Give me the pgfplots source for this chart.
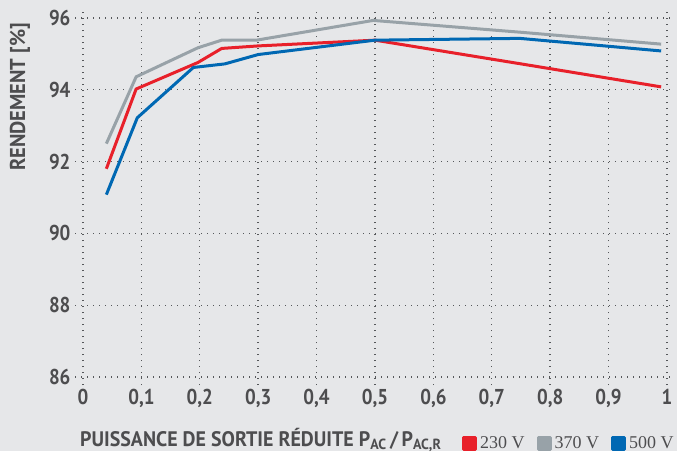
\documentclass[border=0pt]{standalone}
\usepackage{fontspec}
\setmainfont{PT Sans}[FakeStretch=0.88]
\newfontfamily\labfont{PT Sans}[FakeStretch=0.95]
\newfontfamily\legfont{Liberation Serif}
\usepackage{pgfplots}
\pgfplotsset{compat=1.18}
\definecolor{bg}{HTML}{E6E7E9}
\definecolor{txt}{HTML}{4D4D4F}
\definecolor{cred}{HTML}{E8202A}
\definecolor{cgray}{HTML}{98A2A8}
\definecolor{cblue}{HTML}{0068B3}
\definecolor{grd}{HTML}{55575A}
\begin{document}
\begin{tikzpicture}[x=1pt,y=1pt]
\fill[bg] (0,0) rectangle (677,451);
\path[use as bounding box] (0,0) rectangle (677,451);
\begin{axis}[
  at={(75pt,66pt)}, anchor=south west,
  scale only axis, width=597pt, height=375pt,
  xmin=-0.0137, xmax=1.0086, ymin=85.78, ymax=96.22,
  axis line style={draw=none},
  tick style={draw=none},
  xtick={0,0.1,0.2,0.3,0.4,0.5,0.6,0.7,0.8,0.9,1},
  xticklabels={0,{0,1},{0,2},{0,3},{0,4},{0,5},{0,6},{0,7},{0,8},{0,9},1},
  ytick={86,88,90,92,94,96},
  yticklabels={86,88,90,92,94,96},
  grid=major,
  major grid style={grd, line width=1.4pt, dash pattern=on 1.4pt off 4.6pt},
  tick label style={font=\fontsize{21.5}{21.5}\selectfont\bfseries, text=txt},
  xticklabel style={yshift=-1pt},
  yticklabel style={xshift=-1pt},
  legend columns=3,
  legend style={at={(0.648,-0.155)}, anchor=west, draw=none, fill=none, inner sep=0pt,
     font=\fontsize{18}{18}\selectfont\legfont, text=txt,
     /tikz/every even column/.append style={column sep=9pt},
     nodes={inner xsep=3pt, inner ysep=0pt}},
  legend image code/.code={\fill (0pt,-6pt) rectangle (12pt,6pt);},
]
\addplot[cred, line width=3pt, line join=round] coordinates {
 (0.04,91.8) (0.091,94.02) (0.197,94.76) (0.2375,95.15) (0.3,95.22) (0.5,95.38) (0.75,94.72) (0.99,94.08)};
\addlegendentry{230 V}
\addplot[cgray, line width=3pt, line join=round] coordinates {
 (0.04,92.5) (0.091,94.36) (0.197,95.17) (0.2375,95.38) (0.297,95.38) (0.497,95.93) (0.75,95.6) (0.99,95.27)};
\addlegendentry{370 V}
\addplot[cblue, line width=3pt, line join=round] coordinates {
 (0.04,91.08) (0.093,93.22) (0.189,94.62) (0.243,94.72) (0.3,94.98) (0.5,95.38) (0.748,95.43) (0.99,95.08)};
\addlegendentry{500 V}
\end{axis}
\node[rotate=90, text=txt, font=\fontsize{21.5}{21.5}\selectfont\labfont\bfseries] at (20,354) {RENDEMENT [\%]};
\node[anchor=base west, inner sep=0pt, text=txt, font=\fontsize{21}{21}\selectfont\labfont\bfseries] at (80,5)
  {PUISSANCE DE SORTIE RÉDUITE P\textsubscript{AC}\,/\,P\textsubscript{AC,R}};
\end{tikzpicture}
\end{document}
